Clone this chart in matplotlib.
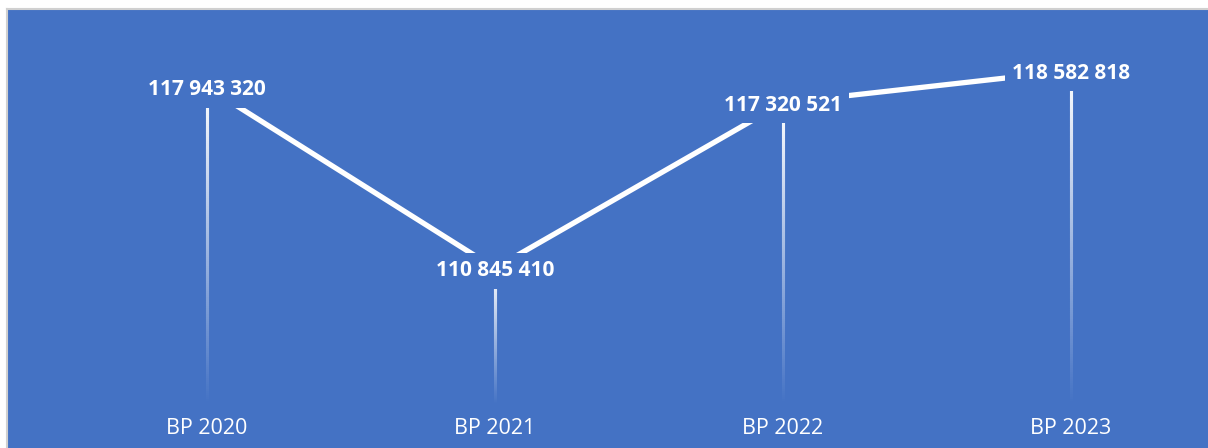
import numpy as np
import matplotlib
matplotlib.use("Agg")
import matplotlib.pyplot as plt
from matplotlib.collections import LineCollection
import matplotlib.transforms as mtransforms
from matplotlib.colors import to_rgb

categories = ["BP 2020", "BP 2021", "BP 2022", "BP 2023"]
values = [117943320, 110845410, 117320521, 118582818]
value_labels = ["117 943 320", "110 845 410", "117 320 521", "118 582 818"]

blue = "#4472C4"
plt.rcParams["font.family"] = ["Open Sans", "DejaVu Sans"]

fig = plt.figure(figsize=(12.08, 4.48), dpi=100)
ax = fig.add_axes([7 / 1208, 0, 1 - 7 / 1208, 1 - 9 / 448])
ax.set_facecolor(blue)
fig.patch.set_facecolor("white")

x = np.arange(len(categories))
drop_base = 105.5e6

# drop lines: white at the top, blending into the background at the bottom
b = np.array(to_rgb(blue))
w = np.ones(3)
for xi, v in zip(x, values):
    n = 150
    ys = np.linspace(v, drop_base, n + 1)
    step = ys[0] - ys[1]
    segs = [[(xi, ys[k] + step * 0.6), (xi, ys[k + 1] - step * 0.6)] for k in range(n)]
    segs[0][0] = (xi, v)
    t = np.linspace(0, 1, n)
    cols = [tuple(w * (1 - f) + b * f) for f in t]
    lc = LineCollection(segs, colors=cols, linewidths=2.2, zorder=2,
                        capstyle="butt")
    ax.add_collection(lc)

ax.plot(x, values, color="white", linewidth=3.8, zorder=3,
        solid_capstyle="butt")

for xi, v, lab in zip(x, values, value_labels):
    ax.annotate(lab, (xi, v), xytext=(0, -2), textcoords="offset points",
                ha="center", va="center", color="white",
                fontsize=15, fontweight="bold", zorder=5,
                bbox=dict(boxstyle="square,pad=0.35", facecolor=blue,
                          edgecolor="none"))

trans = mtransforms.blended_transform_factory(ax.transData, ax.transAxes)
for xi, cat in zip(x, categories):
    ax.text(xi, 0.045, cat, ha="center", va="center", color="white",
            fontsize=15.5, transform=trans)

ax.set_xlim(-0.694, 3.476)
ax.set_ylim(103.8e6, 121.0e6)
ax.set_xticks([])
ax.set_yticks([])
for side in ["right", "bottom"]:
    ax.spines[side].set_visible(False)
for side in ["top", "left"]:
    ax.spines[side].set_color("#D0D0D0")
    ax.spines[side].set_linewidth(1.5)

fig.savefig("out.png", dpi=100)
